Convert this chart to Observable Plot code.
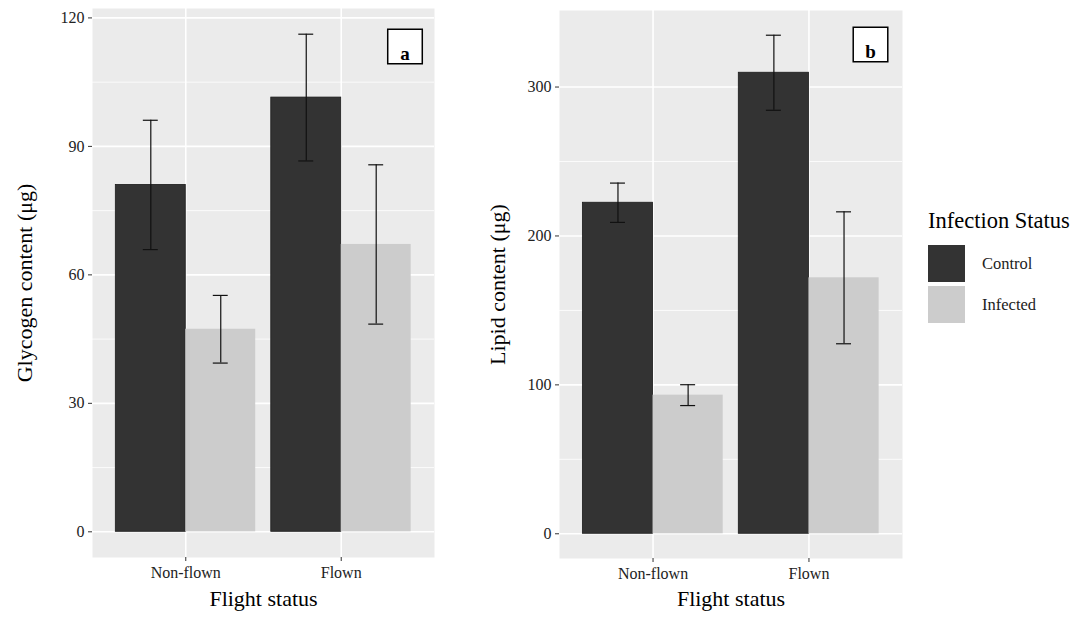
<!DOCTYPE html>
<html><head><meta charset="utf-8">
<script src="https://cdn.jsdelivr.net/npm/d3@7"></script>
<script src="https://cdn.jsdelivr.net/npm/@observablehq/plot@0.6"></script>
<style>
body{margin:0;background:#fff;width:1079px;height:619px;position:relative;overflow:hidden;font-family:"Liberation Serif","Times New Roman",serif;}
#a{position:absolute;left:0;top:0}
#b{position:absolute;left:450px;top:0}
#legend{position:absolute;left:928px;top:0;width:150px;height:619px;}
#legend .title{position:absolute;left:0;top:210px;font-size:22.5px;line-height:22px;color:#000;white-space:nowrap;}
#legend .row{position:absolute;left:0;height:37px;display:flex;align-items:center;}
#legend .sw{width:37px;height:37px;}
#legend .lab{margin-left:17px;font-size:16.5px;color:#222;}
</style></head><body>
<div id="a"></div><div id="b"></div><div id="legend"></div>
<script>
const categories = ["Non-flown", "Flown"];
const statuses = ["Control", "Infected"];
const statusColors = ["#333333", "#CCCCCC"];

const glycogenControl = [81.0, 101.4];
const glycogenControlSE = [15.1, 14.8];
const glycogenInfected = [47.3, 67.1];
const glycogenInfectedSE = [7.9, 18.6];
const glycogenTicks = [0, 30, 60, 90, 120];
const glycogenMinor = [15, 45, 75, 105];

const lipidControl = [222.3, 309.6];
const lipidControlSE = [13.2, 25.2];
const lipidInfected = [93.1, 171.9];
const lipidInfectedSE = [7.0, 44.3];
const lipidTicks = [0, 100, 200, 300];
const lipidMinor = [50, 150, 250];

function makeRows(ctrl, ctrlSE, inf, infSE) {
  const rows = [];
  categories.forEach((c, i) => {
    const idx = i + 1;
    rows.push({category: c, status: statuses[0], value: ctrl[i], se: ctrlSE[i], x1: idx - 0.45, x2: idx, xc: idx - 0.225});
    rows.push({category: c, status: statuses[1], value: inf[i], se: infSE[i], x1: idx, x2: idx + 0.45, xc: idx + 0.225});
  });
  return rows;
}

function panel(o) {
  const rows = o.rows;
  return Plot.plot({
    width: o.width, height: 619,
    marginLeft: o.marginLeft, marginRight: o.marginRight, marginTop: o.marginTop, marginBottom: o.marginBottom,
    style: {fontFamily: '"Liberation Serif", "Times New Roman", serif', fontSize: "16px", color: "#222", background: "transparent"},
    x: {type: "linear", domain: [0.4, 2.6]},
    y: {domain: o.yDomain},
    color: {domain: statuses, range: statusColors},
    marks: [
      Plot.frame({fill: "#EBEBEB", stroke: null}),
      Plot.gridY(o.minor, {stroke: "white", strokeOpacity: 1, strokeWidth: 0.8}),
      Plot.gridY(o.ticks, {stroke: "white", strokeOpacity: 1, strokeWidth: 1.6}),
      Plot.gridX([1, 2], {stroke: "white", strokeOpacity: 1, strokeWidth: 1.6}),
      Plot.rect(rows, {x1: "x1", x2: "x2", y1: 0, y2: "value", fill: "status",
        stroke: d => d.status === statuses[0] ? "#1c1c1c" : "none", strokeWidth: 0.8}),
      Plot.ruleX(rows, {x: "xc", y1: d => d.value - d.se, y2: d => d.value + d.se, stroke: "#111", strokeWidth: 1.2}),
      Plot.ruleY(rows, {y: d => d.value + d.se, x1: d => d.xc - 0.048, x2: d => d.xc + 0.048, stroke: "#111", strokeWidth: 1.2}),
      Plot.ruleY(rows, {y: d => d.value - d.se, x1: d => d.xc - 0.048, x2: d => d.xc + 0.048, stroke: "#111", strokeWidth: 1.2}),
      Plot.dot([o.tag], {frameAnchor: "top-right", dx: o.tagDx, dy: o.tagDy, symbol: "square", r: 19.5, fill: "white", stroke: "black", strokeWidth: 1.5}),
      Plot.text([o.tag], {text: d => d, frameAnchor: "top-right", dx: o.tagDx, dy: o.tagDy, textAnchor: "middle", fontWeight: "bold", fontSize: 19, fill: "black"}),
      Plot.axisY(o.ticks, {tickSize: 4, tickPadding: 4, stroke: "#333", fill: "#222", fontSize: 16, label: null}),
      Plot.axisX([1, 2], {tickFormat: d => categories[d - 1], tickSize: 4, tickPadding: 5, stroke: "#333", fill: "#222", fontSize: 16, label: null}),
      Plot.text([o.yLabel], {text: d => d, frameAnchor: "left", textAnchor: "middle", dx: o.yLabelDx, rotate: -90, fontSize: 22, fill: "black"}),
      Plot.text(["Flight status"], {text: d => d, frameAnchor: "bottom", textAnchor: "middle", dy: o.xLabelDy, fontSize: 22, fill: "black"})
    ]
  });
}

document.getElementById("a").append(panel({
  rows: makeRows(glycogenControl, glycogenControlSE, glycogenInfected, glycogenInfectedSE),
  width: 450, marginLeft: 92, marginRight: 16, marginTop: 8, marginBottom: 62,
  yDomain: [-6, 122.2], ticks: glycogenTicks, minor: glycogenMinor,
  yLabel: "Glycogen content (μg)", yLabelDx: -68, xLabelDy: 48,
  tag: "a", tagDx: -29.5, tagDy: 38
}));

document.getElementById("b").append(panel({
  rows: makeRows(lipidControl, lipidControlSE, lipidInfected, lipidInfectedSE),
  width: 470, marginLeft: 109, marginRight: 18, marginTop: 10, marginBottom: 61,
  yDomain: [-16.6, 351.4], ticks: lipidTicks, minor: lipidMinor,
  yLabel: "Lipid content (μg)", yLabelDx: -61.5, xLabelDy: 47,
  tag: "b", tagDx: -32, tagDy: 34
}));

const legend = document.getElementById("legend");
const t = document.createElement("div");
t.className = "title"; t.textContent = "Infection Status";
legend.append(t);
statuses.forEach((s, i) => {
  const row = document.createElement("div");
  row.className = "row";
  row.style.top = (245 + i * 41) + "px";
  const sw = document.createElement("div");
  sw.className = "sw"; sw.style.background = statusColors[i];
  const lab = document.createElement("div");
  lab.className = "lab"; lab.textContent = s;
  row.append(sw, lab);
  legend.append(row);
});
</script>
</body></html>
